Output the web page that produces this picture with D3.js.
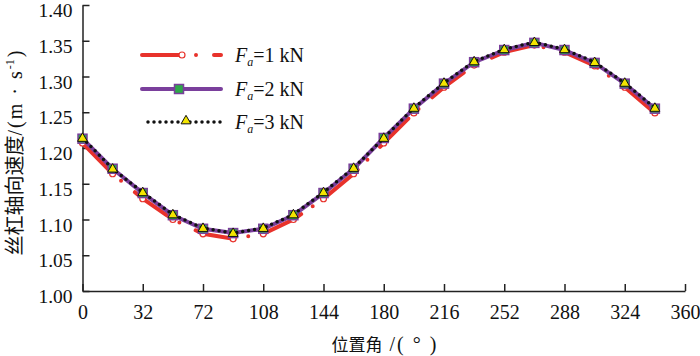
<!DOCTYPE html>
<html>
<head>
<meta charset="utf-8">
<script src="https://cdn.jsdelivr.net/npm/d3@7"></script>
<style>
  body { margin: 0; background: #fff; }
  svg { display: block; }
</style>
</head>
<body>
<div id="chart"></div>
<script>
// position angle (deg)
const angles = [0, 18, 36, 54, 72, 90, 108, 126, 144, 162, 180, 198, 216, 234, 252, 270, 288, 306, 324, 342];
// axial speed of screw (m/s)
const fa1 = [1.207, 1.164, 1.129, 1.100, 1.080, 1.073, 1.080, 1.100, 1.129, 1.164, 1.207, 1.249, 1.285, 1.316, 1.334, 1.344, 1.334, 1.315, 1.285, 1.249];
const fa2 = [1.213, 1.171, 1.137, 1.106, 1.087, 1.081, 1.087, 1.106, 1.137, 1.171, 1.214, 1.255, 1.290, 1.320, 1.337, 1.347, 1.337, 1.319, 1.290, 1.255];
const fa3 = [1.214, 1.171, 1.138, 1.107, 1.088, 1.081, 1.088, 1.107, 1.138, 1.172, 1.214, 1.256, 1.291, 1.321, 1.338, 1.348, 1.338, 1.320, 1.291, 1.256];
const xTicks = [0, 36, 72, 108, 144, 180, 216, 252, 288, 324, 360];
const xTickLabels = ["0", "32", "72", "108", "144", "180", "216", "252", "288", "324", "360"];
const yTicks = [1.00, 1.05, 1.10, 1.15, 1.20, 1.25, 1.30, 1.35, 1.40];
const legendLabels = ["1 kN", "2 kN", "3 kN"];

const width = 700, height = 356;
const serif = "'Liberation Serif', 'DejaVu Serif', serif";
const cjk = "'Noto Sans CJK SC', sans-serif";

const svg = d3.select("#chart").append("svg")
  .attr("width", width).attr("height", height);

const x = d3.scaleLinear().domain([0, 360]).range([82.5, 685]);
const y = d3.scaleLinear().domain([1.0, 1.4]).range([291, 5]);

// axes, ticks pointing inward
const xAxis = svg.append("g")
  .attr("transform", `translate(0,${y(1.0)})`)
  .call(d3.axisBottom(x).tickValues(xTicks)
    .tickFormat((d, i) => xTickLabels[i])
    .tickSizeInner(-7).tickSizeOuter(0).tickPadding(14));

const yAxis = svg.append("g")
  .attr("transform", `translate(${x(0)},0)`)
  .call(d3.axisLeft(y).tickValues(yTicks)
    .tickFormat(d3.format(".2f"))
    .tickSizeInner(-7).tickSizeOuter(0).tickPadding(10));

[xAxis, yAxis].forEach(a => {
  a.select(".domain").attr("stroke", "#222").attr("stroke-width", 1.5);
  a.selectAll(".tick line").attr("stroke", "#222").attr("stroke-width", 1.5);
  a.selectAll("text").attr("font-family", serif).attr("font-size", 20).attr("fill", "#111");
});
yAxis.selectAll(".tick text").attr("font-size", 19.5).attr("dy", "0.6em");

// axis titles
const xt = svg.append("text")
  .attr("x", 385).attr("y", 351)
  .attr("text-anchor", "middle")
  .attr("font-size", 17).attr("fill", "#111");
xt.append("tspan").attr("font-family", cjk).text("位置角");
xt.append("tspan").attr("font-family", serif).attr("font-size", 20)
  .attr("letter-spacing", 2).text(" /( ° )");

const yt = svg.append("text")
  .attr("transform", "translate(22,153) rotate(-90)")
  .attr("text-anchor", "middle")
  .attr("font-size", 20).attr("fill", "#111");
yt.append("tspan").attr("font-family", cjk).text("丝杠轴向速度");
yt.append("tspan").attr("font-family", serif).attr("letter-spacing", 2).text("/(m · s");
yt.append("tspan").attr("font-family", serif).attr("font-size", 12).attr("dy", -8).text("-1");
yt.append("tspan").attr("font-family", serif).attr("dx", 2).attr("dy", 8).text(")");

const red = "#e8322b", purple = "#7a3f9c", green = "#2fa84a", yellow = "#f3e500";

const line = d3.line().x((d, i) => x(angles[i])).y(d => y(d));

// Fa = 1 kN
svg.append("path").datum(fa1)
  .attr("d", line).attr("fill", "none")
  .attr("stroke", red).attr("stroke-width", 4)
  .attr("stroke-linecap", "round")
  .attr("stroke-dasharray", "40,14,0,18");
svg.selectAll(".m1").data(fa1).enter().append("circle")
  .attr("cx", (d, i) => x(angles[i])).attr("cy", d => y(d))
  .attr("r", 3).attr("fill", "#fff").attr("stroke", red).attr("stroke-width", 1.2);

// Fa = 2 kN
svg.append("path").datum(fa2)
  .attr("d", line).attr("fill", "none")
  .attr("stroke", purple).attr("stroke-width", 4);
svg.selectAll(".m2").data(fa2).enter().append("rect")
  .attr("x", (d, i) => x(angles[i]) - 4.5).attr("y", d => y(d) - 4.5)
  .attr("width", 9).attr("height", 9)
  .attr("fill", green).attr("stroke", purple).attr("stroke-width", 1.5);

// Fa = 3 kN
svg.append("path").datum(fa3)
  .attr("d", line).attr("fill", "none")
  .attr("stroke", "#111").attr("stroke-width", 3.5)
  .attr("stroke-linecap", "round")
  .attr("stroke-dasharray", "0,6");
const tri = d3.symbol().type(d3.symbolTriangle).size(42);
svg.selectAll(".m3").data(fa3).enter().append("path")
  .attr("d", tri)
  .attr("transform", (d, i) => `translate(${x(angles[i])},${y(d) + 0.5})`)
  .attr("fill", yellow).attr("stroke", "#111").attr("stroke-width", 1);

// legend
const legY = [55, 89, 122];
const lx0 = 142, lx1 = 221;
const lg = svg.append("g");
lg.append("line").attr("x1", lx0).attr("x2", lx1).attr("y1", legY[0]).attr("y2", legY[0])
  .attr("stroke", red).attr("stroke-width", 4).attr("stroke-linecap", "round")
  .attr("stroke-dasharray", "40,14,0,18");
lg.append("circle").attr("cx", 182).attr("cy", legY[0]).attr("r", 3)
  .attr("fill", "#fff").attr("stroke", red).attr("stroke-width", 1.2);
lg.append("line").attr("x1", lx0).attr("x2", lx1).attr("y1", legY[1]).attr("y2", legY[1])
  .attr("stroke", purple).attr("stroke-width", 4).attr("stroke-linecap", "round");
lg.append("rect").attr("x", 179 - 4.5).attr("y", legY[1] - 4.5).attr("width", 9).attr("height", 9)
  .attr("fill", green).attr("stroke", purple).attr("stroke-width", 1.5);
lg.append("line").attr("x1", lx0 + 6).attr("x2", lx1).attr("y1", legY[2]).attr("y2", legY[2])
  .attr("stroke", "#111").attr("stroke-width", 3.5).attr("stroke-linecap", "round")
  .attr("stroke-dasharray", "0,6");
lg.append("path").attr("d", tri).attr("transform", `translate(186,${legY[2] - 1})`)
  .attr("fill", yellow).attr("stroke", "#111").attr("stroke-width", 1);

legendLabels.forEach((lab, i) => {
  const t = lg.append("text").attr("x", 235).attr("y", legY[i] + 7)
    .attr("font-family", serif).attr("font-size", 20).attr("fill", "#111");
  t.append("tspan").attr("font-style", "italic").text("F");
  t.append("tspan").attr("font-style", "italic").attr("font-size", 12).attr("dy", 4).text("a");
  t.append("tspan").attr("dy", -4).text("=" + lab);
});
</script>
</body>
</html>
